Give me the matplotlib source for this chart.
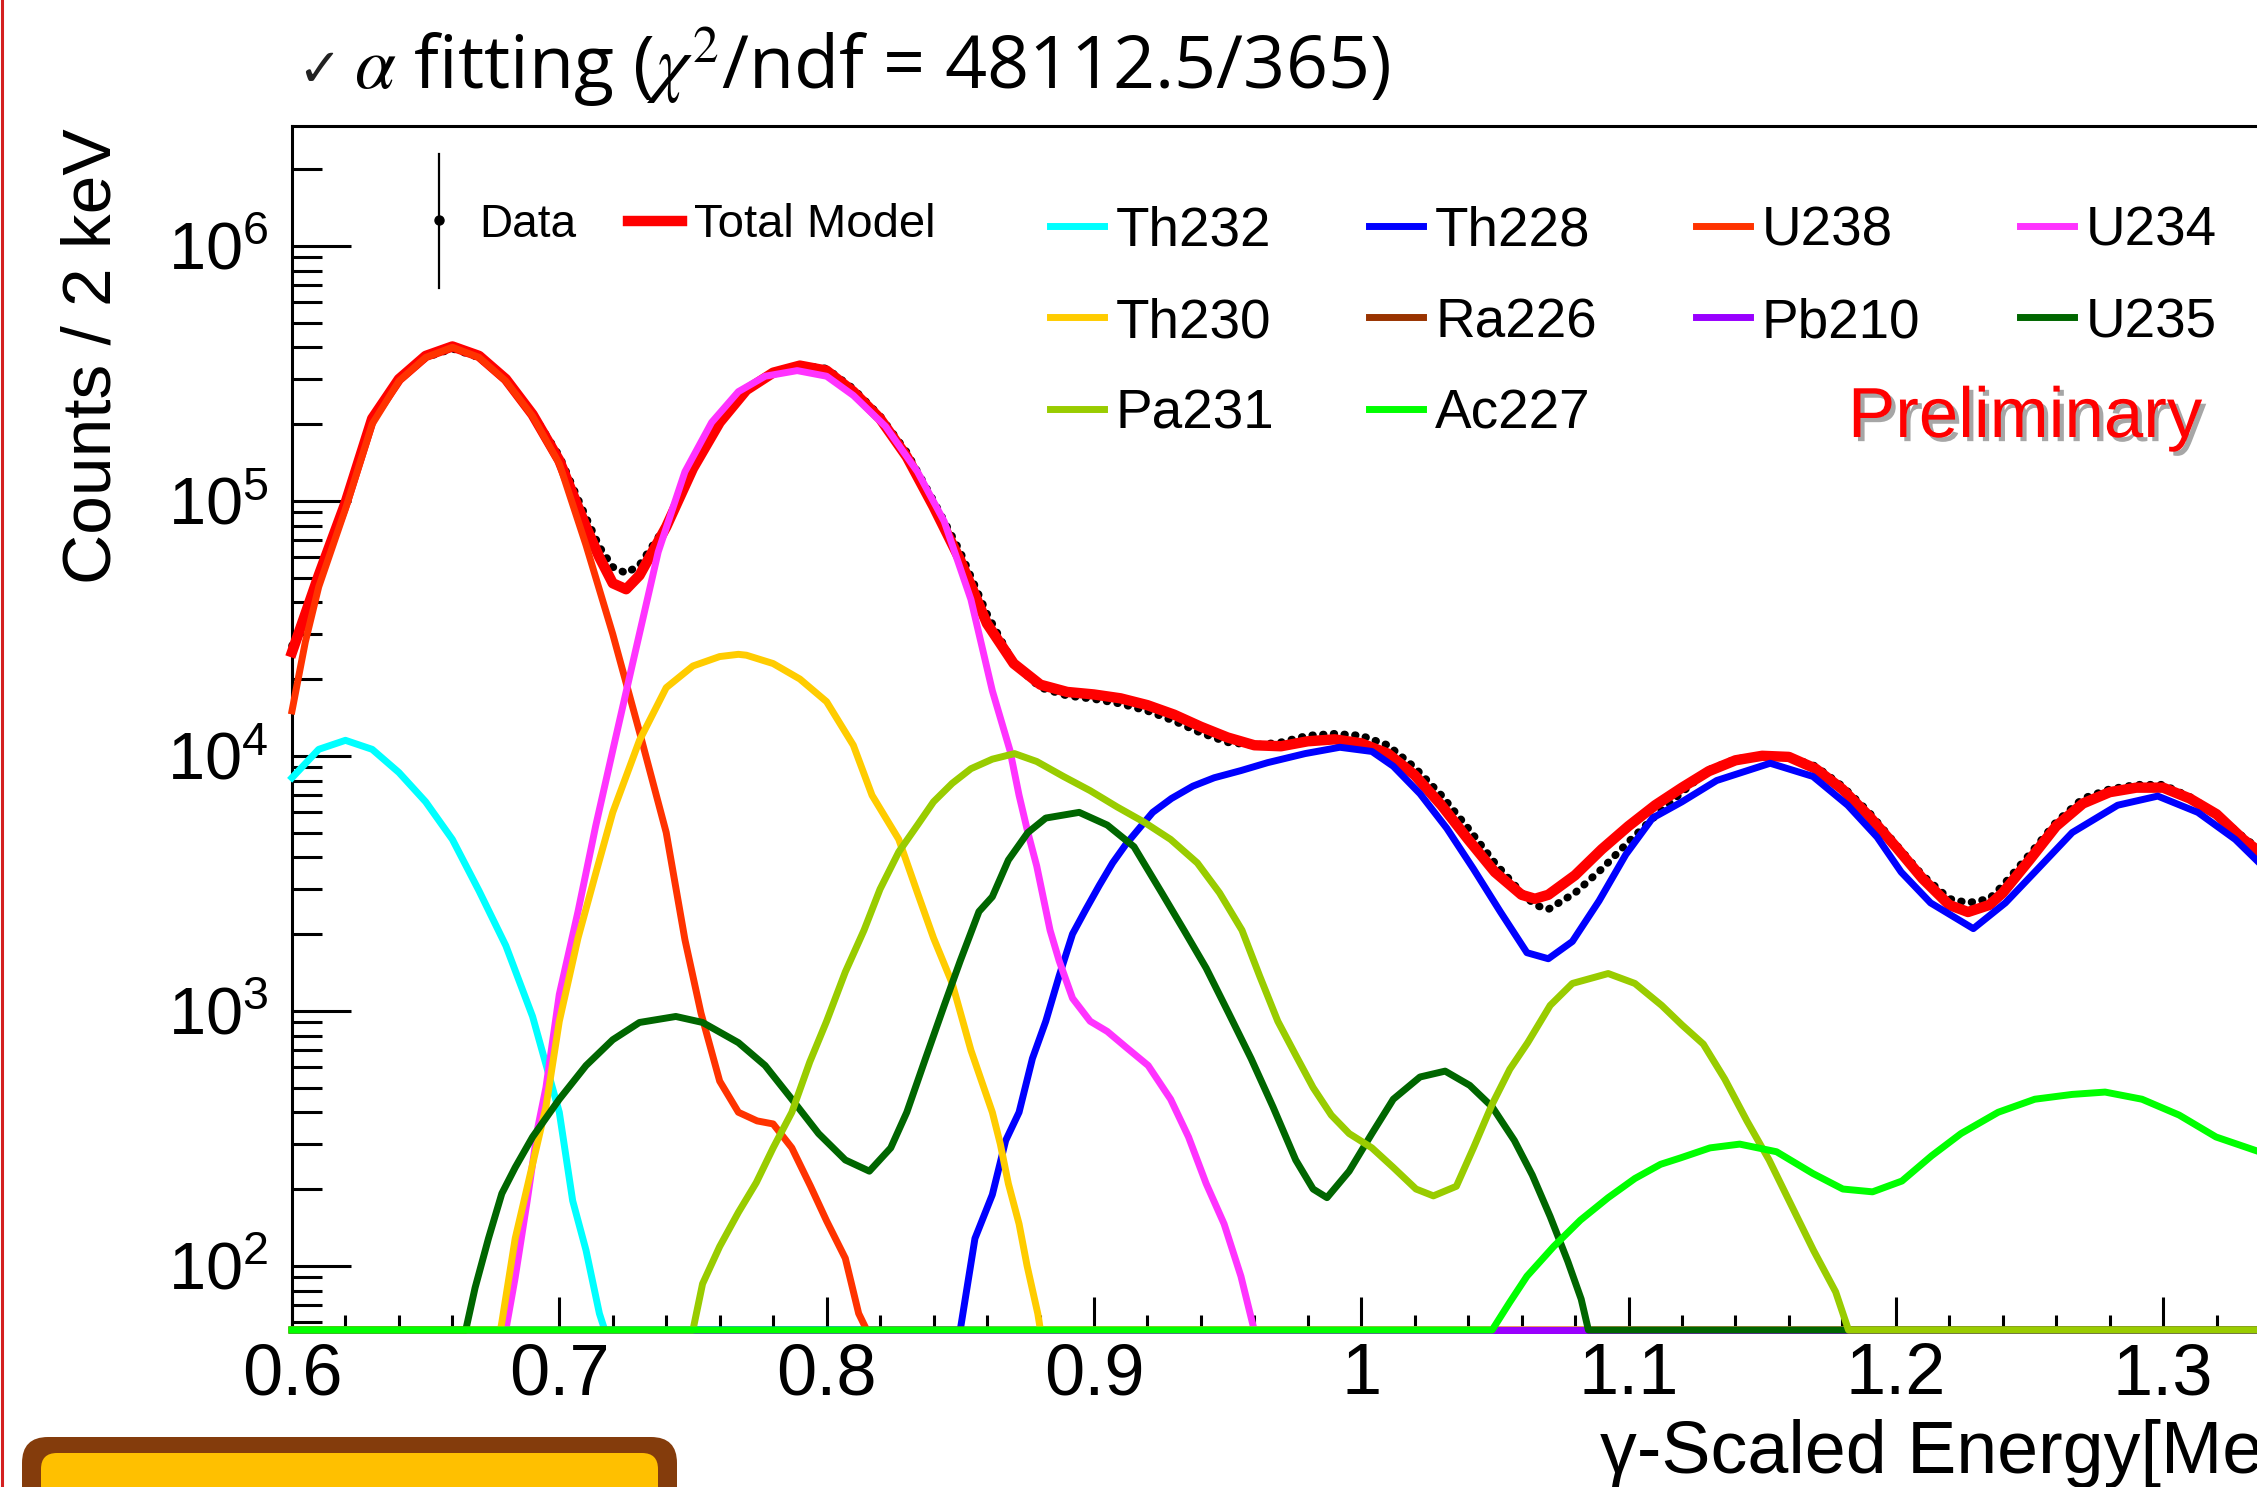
import matplotlib
matplotlib.use("Agg")
import matplotlib.pyplot as plt
import matplotlib.patheffects as pe
import matplotlib.transforms as mtrans
import numpy as np
from matplotlib.lines import Line2D
from matplotlib.patches import FancyBboxPatch
from matplotlib.ticker import LogLocator, MultipleLocator, NullFormatter

# ---- data (energy in MeV, counts per 2 keV) ----
model_e = [0.600, 0.605, 0.610, 0.620, 0.630, 0.640, 0.650, 0.660, 0.670, 0.680,
           0.690, 0.700, 0.710, 0.715, 0.720, 0.725, 0.730, 0.740, 0.750, 0.760,
           0.770, 0.780, 0.790, 0.800, 0.810, 0.820, 0.830, 0.840, 0.850, 0.860,
           0.870, 0.880, 0.890, 0.900, 0.910, 0.920, 0.930, 0.940, 0.950, 0.960,
           0.970, 0.980, 0.990, 1.000, 1.010, 1.020, 1.030, 1.040, 1.050, 1.060,
           1.065, 1.070, 1.080, 1.090, 1.100, 1.110, 1.120, 1.130, 1.140, 1.150,
           1.160, 1.170, 1.180, 1.190, 1.200, 1.210, 1.220, 1.227, 1.235, 1.240,
           1.250, 1.260, 1.270, 1.280, 1.290, 1.300, 1.310, 1.320, 1.330, 1.340]
model_c = [2.55e4, 3.6e4, 5.1e4, 9.8e4, 2.1e5, 3.0e5, 3.7e5, 4.03e5, 3.7e5, 3.0e5,
           2.18e5, 1.44e5, 7.9e4, 6.0e4, 4.75e4, 4.5e4, 5.1e4, 7.9e4, 1.34e5, 2.03e5,
           2.72e5, 3.18e5, 3.39e5, 3.24e5, 2.68e5, 2.1e5, 1.49e5, 9.5e4, 5.85e4, 3.3e4,
           2.3e4, 1.9e4, 1.78e4, 1.74e4, 1.68e4, 1.58e4, 1.45e4, 1.3e4, 1.18e4, 1.1e4,
           1.09e4, 1.14e4, 1.16e4, 1.12e4, 1.02e4, 8.4e3, 6.4e3, 4.7e3, 3.5e3, 2.85e3,
           2.75e3, 2.85e3, 3.4e3, 4.3e3, 5.3e3, 6.4e3, 7.5e3, 8.7e3, 9.6e3, 1.0e4,
           9.9e3, 8.9e3, 7.4e3, 5.8e3, 4.4e3, 3.3e3, 2.6e3, 2.44e3, 2.6e3, 2.9e3,
           3.9e3, 5.3e3, 6.5e3, 7.2e3, 7.5e3, 7.5e3, 6.8e3, 5.9e3, 4.7e3, 3.9e3]
data_c = [2.7e4, 3.6e4, 5.1e4, 9.8e4, 2.1e5, 3.0e5, 3.65e5, 3.95e5, 3.65e5, 3.0e5,
          2.2e5, 1.5e5, 8.6e4, 6.6e4, 5.5e4, 5.2e4, 5.6e4, 8.0e4, 1.34e5, 2.03e5,
          2.72e5, 3.2e5, 3.4e5, 3.3e5, 2.75e5, 2.15e5, 1.55e5, 1.0e5, 6.3e4, 3.6e4,
          2.3e4, 1.85e4, 1.72e4, 1.67e4, 1.6e4, 1.5e4, 1.37e4, 1.23e4, 1.13e4, 1.1e4,
          1.13e4, 1.2e4, 1.22e4, 1.2e4, 1.1e4, 9.0e3, 7.0e3, 5.2e3, 3.8e3, 2.9e3,
          2.6e3, 2.5e3, 2.9e3, 3.6e3, 4.6e3, 5.8e3, 7.2e3, 8.8e3, 9.7e3, 1.0e4,
          9.9e3, 9.1e3, 7.6e3, 6.0e3, 4.5e3, 3.4e3, 2.75e3, 2.65e3, 2.75e3, 3.1e3,
          4.1e3, 5.5e3, 6.8e3, 7.4e3, 7.7e3, 7.7e3, 6.9e3, 5.9e3, 4.8e3, 4.0e3]

th232_e = [0.600, 0.610, 0.620, 0.630, 0.640, 0.650, 0.660, 0.670, 0.680, 0.690,
           0.700, 0.705, 0.710, 0.715, 0.717, 1.345]
th232_c = [8.2e3, 1.06e4, 1.15e4, 1.06e4, 8.6e3, 6.6e3, 4.7e3, 2.95e3, 1.8e3, 950,
           400, 180, 115, 65, 0, 0]

th228_e = [0.600, 0.850, 0.8555, 0.862, 0.867, 0.872, 0.877, 0.882, 0.887, 0.892,
           0.897, 0.902, 0.907, 0.912, 0.917, 0.922, 0.929, 0.937, 0.945, 0.955,
           0.965, 0.979, 0.992, 1.004, 1.012, 1.022, 1.032, 1.042, 1.052, 1.062,
           1.070, 1.079, 1.089, 1.099, 1.109, 1.120, 1.133, 1.153, 1.169, 1.182,
           1.193, 1.202, 1.213, 1.229, 1.241, 1.252, 1.266, 1.283, 1.298, 1.313,
           1.327, 1.336, 1.345]
th228_c = [0, 0, 128, 190, 310, 400, 650, 910, 1370, 2000,
           2500, 3100, 3800, 4500, 5200, 6000, 6800, 7600, 8200, 8750,
           9400, 10200, 10800, 10400, 9100, 7100, 5200, 3600, 2450, 1690,
           1600, 1870, 2700, 4100, 5700, 6600, 8000, 9350, 8300, 6400,
           4800, 3500, 2650, 2100, 2650, 3500, 5000, 6400, 6950, 6000,
           4700, 3800, 3000]

u238_e = [0.600, 0.605, 0.610, 0.620, 0.630, 0.640, 0.650, 0.660, 0.670, 0.680,
          0.690, 0.700, 0.710, 0.720, 0.730, 0.740, 0.747, 0.753, 0.760, 0.767,
          0.774, 0.780, 0.787, 0.794, 0.800, 0.807, 0.812, 0.815, 1.345]
u238_c = [1.5e4, 2.8e4, 4.6e4, 9.3e4, 2.0e5, 2.95e5, 3.65e5, 4.0e5, 3.65e5, 2.95e5,
          2.15e5, 1.4e5, 6.7e4, 3.0e4, 1.24e4, 5.0e3, 1.9e3, 980, 530, 400,
          370, 360, 290, 205, 150, 107, 65, 0, 0]

u234_e = [0.600, 0.680, 0.6835, 0.688, 0.692, 0.695, 0.700, 0.707, 0.7136, 0.720,
          0.727, 0.737, 0.747, 0.757, 0.767, 0.777, 0.789, 0.800, 0.810, 0.822,
          0.834, 0.844, 0.854, 0.862, 0.8686, 0.872, 0.8753, 0.8786, 0.8836, 0.887,
          0.892, 0.8986, 0.905, 0.912, 0.9203, 0.9287, 0.9354, 0.942, 0.9487, 0.955,
          0.9596, 0.960, 1.345]
u234_c = [0, 0, 90, 180, 350, 500, 1160, 2450, 5300, 1.05e4,
          2.2e4, 6.3e4, 1.3e5, 2.03e5, 2.68e5, 3.08e5, 3.24e5, 3.08e5, 2.59e5, 1.96e5,
          1.3e5, 8.3e4, 4.1e4, 1.8e4, 1.05e4, 7.0e3, 5.0e3, 3.7e3, 2.07e3, 1.57e3,
          1.12e3, 910, 830, 720, 610, 450, 320, 210, 146, 91,
          58, 0, 0]

th230_e = [0.600, 0.678, 0.6785, 0.6835, 0.690, 0.695, 0.700, 0.707, 0.7136, 0.720,
           0.730, 0.740, 0.750, 0.760, 0.767, 0.770, 0.780, 0.790, 0.800, 0.810,
           0.817, 0.827, 0.834, 0.840, 0.847, 0.854, 0.862, 0.865, 0.868, 0.872,
           0.875, 0.879, 0.880, 1.345]
th230_c = [0, 0, 60, 128, 250, 420, 910, 1930, 3450, 6000,
           11500, 18500, 22500, 24500, 25000, 24800, 23000, 20000, 16300, 11000,
           7000, 4700, 2900, 1930, 1280, 700, 400, 300, 210, 146,
           100, 65, 0, 0]

ra226_e = [0.600, 1.345]
ra226_c = [0, 0]

pb210_e = [0.600, 1.345]
pb210_c = [0, 0]

u235_e = [0.600, 0.665, 0.6685, 0.6735, 0.6785, 0.6835, 0.690, 0.700, 0.710, 0.720,
          0.730, 0.7436, 0.7536, 0.767, 0.777, 0.787, 0.797, 0.807, 0.816, 0.824,
          0.830, 0.837, 0.844, 0.850, 0.857, 0.862, 0.868, 0.8753, 0.882, 0.8945,
          0.905, 0.915, 0.9254, 0.9337, 0.942, 0.9504, 0.9588, 0.967, 0.9755, 0.982,
          0.9872, 0.9955, 1.004, 1.012, 1.022, 1.0314, 1.0406, 1.049, 1.0573, 1.064,
          1.0707, 1.0773, 1.0823, 1.085, 1.345]
u235_c = [0, 0, 82, 128, 192, 243, 320, 450, 610, 770,
          900, 950, 900, 750, 610, 450, 330, 260, 235, 290,
          400, 650, 1050, 1570, 2450, 2800, 3900, 5000, 5700, 6000,
          5350, 4400, 2900, 2070, 1470, 980, 650, 420, 260, 200,
          185, 235, 330, 450, 550, 580, 510, 420, 310, 227,
          156, 104, 74, 0, 0]

pa231_e = [0.600, 0.750, 0.7536, 0.760, 0.767, 0.7737, 0.780, 0.787, 0.7937, 0.800,
           0.807, 0.814, 0.820, 0.827, 0.834, 0.840, 0.847, 0.854, 0.862, 0.8703,
           0.8786, 0.8886, 0.8986, 0.9087, 0.9187, 0.9287, 0.9387, 0.947, 0.9554, 0.962,
           0.9688, 0.9755, 0.982, 0.9888, 0.9955, 1.004, 1.012, 1.0205, 1.027, 1.0356,
           1.042, 1.049, 1.0556, 1.0623, 1.0707, 1.079, 1.0924, 1.1024, 1.1124, 1.120,
           1.128, 1.136, 1.1443, 1.1526, 1.161, 1.1692, 1.1775, 1.1823, 1.345]
pa231_c = [0, 0, 85, 119, 162, 212, 290, 400, 630, 910,
           1420, 2070, 3000, 4200, 5350, 6600, 7800, 8900, 9700, 10200,
           9500, 8300, 7300, 6300, 5500, 4700, 3800, 2900, 2070, 1370,
           910, 670, 500, 390, 330, 290, 243, 200, 188, 205,
           290, 430, 590, 750, 1050, 1280, 1400, 1280, 1050, 880,
           740, 540, 370, 260, 172, 115, 79, 0, 0]

ac227_e = [0.600, 1.049, 1.0556, 1.062, 1.072, 1.082, 1.0924, 1.1024, 1.112, 1.1195,
           1.1305, 1.1416, 1.1554, 1.169, 1.1802, 1.1913, 1.2023, 1.2134, 1.2244, 1.2383,
           1.252, 1.266, 1.2783, 1.2921, 1.306, 1.3198, 1.336, 1.345]
ac227_c = [0, 0, 72, 91, 119, 151, 185, 220, 250, 265,
           290, 300, 280, 230, 200, 195, 215, 270, 330, 400,
           450, 470, 480, 450, 390, 320, 280, 250]

# legend order = drawing order
comp_names = ["Th232", "Th228", "U238", "U234", "Th230",
              "Ra226", "Pb210", "U235", "Pa231", "Ac227"]
comp_colors = ["#00FFFF", "#0000FF", "#FF3300", "#FF33FF", "#FFCC00",
               "#993300", "#9900FF", "#006600", "#99CC00", "#00FF00"]
comp_e = [th232_e, th228_e, u238_e, u234_e, th230_e,
          ra226_e, pb210_e, u235_e, pa231_e, ac227_e]
comp_c = [th232_c, th228_c, u238_c, u234_c, th230_c,
          ra226_c, pb210_c, u235_c, pa231_c, ac227_c]

x_ticks = [0.6, 0.7, 0.8, 0.9, 1.0, 1.1, 1.2, 1.3, 1.4]
x_tick_labels = ["0.6", "0.7", "0.8", "0.9", "1", "1.1", "1.2", "1.3", "1.4"]
y_ticks = [1e2, 1e3, 1e4, 1e5, 1e6]
y_tick_labels = [r"$\mathregular{10^{%d}}$" % p for p in (2, 3, 4, 5, 6)]

YMIN, YMAX = 56, 2.95e6

# ---- figure, sized in pixels of the screenshot ----
W, H = 2257, 1487


def fx(x):
    return x / W


def fy(y):
    return 1 - y / H


plt.rcParams["font.family"] = ["Liberation Sans", "DejaVu Sans"]
fig = plt.figure(figsize=(W / 100, H / 100), dpi=100)
fig.patch.set_facecolor("white")

ax = fig.add_axes([fx(292), fy(1330), 0.8 * 2673 / W, (1330 - 126) / H])
ax.set_yscale("log")
ax.set_xlim(0.6, 1.4)
ax.set_ylim(YMIN, YMAX)

# data underneath, then total model, then components on top
ax.plot(model_e, data_c, color="black", lw=5.5, ls=(0, (0.1, 1.3)),
        dash_capstyle="round", zorder=2, clip_on=False)
ax.plot(model_e, model_c, color="red", lw=7.5, zorder=3, clip_on=False,
        solid_joinstyle="round")
for e, c, col in zip(comp_e, comp_c, comp_colors):
    ax.plot(e, np.maximum(c, YMIN), color=col, lw=5, zorder=4, clip_on=False,
            solid_joinstyle="round")

for s in ax.spines.values():
    s.set_linewidth(2.2)
    s.set_zorder(1)

ax.set_xticks(x_ticks)
ax.set_xticklabels(x_tick_labels, fontsize=52)
ax.xaxis.set_minor_locator(MultipleLocator(0.02))
ax.set_yticks(y_ticks)
ax.set_yticklabels(y_tick_labels, fontsize=48)
ax.yaxis.set_minor_locator(LogLocator(base=10, subs=np.arange(2, 10), numticks=30))
ax.yaxis.set_minor_formatter(NullFormatter())
ax.tick_params(which="both", direction="in", width=2.2, top=False, right=False)
ax.tick_params(axis="y", which="major", length=42.5, pad=17)
ax.tick_params(axis="y", which="minor", length=21.6)
ax.tick_params(axis="x", which="major", length=23.8, pad=9)
ax.tick_params(axis="x", which="minor", length=10.8)

# titles
fig.text(fx(297), fy(86), "\u2713", fontsize=38, family="DejaVu Sans",
         color="#222222", ha="left", va="baseline")
fig.text(fx(354), fy(89), "$\\alpha$ fitting ($\\chi^{2}$/ndf = 48112.5/365)",
         fontsize=53, family="Open Sans", math_fontfamily="stix",
         ha="left", va="baseline")
fig.text(fx(93), fy(356), "Counts / 2 keV", rotation=90, fontsize=50,
         ha="center", va="center")
fig.text(fx(1600), fy(1473), "\u03b3-Scaled Energy[MeV]", fontsize=53,
         ha="left", va="baseline")

# legend: data + total model
fig.add_artist(Line2D([fx(439), fx(439)], [fy(154), fy(288)], color="black",
                      lw=1.6, transform=fig.transFigure))
fig.add_artist(Line2D([fx(439)], [fy(220)], marker="o", ms=6.5, color="black",
                      transform=fig.transFigure))
fig.text(fx(479), fy(237), "Data", fontsize=33, va="baseline")
fig.add_artist(Line2D([fx(628), fx(682)], [fy(221), fy(221)], color="red",
                      lw=7.5, transform=fig.transFigure))
fig.text(fx(694), fy(237), "Total Model", fontsize=34, va="baseline")

# legend: components, 4 columns
col_x = [1050, 1369, 1696, 2020]
row_y = [226, 317, 409]
for i, (name, col) in enumerate(zip(comp_names, comp_colors)):
    x0 = col_x[i % 4]
    y0 = row_y[i // 4]
    fig.add_artist(Line2D([fx(x0), fx(x0 + 54)], [fy(y0), fy(y0)], color=col,
                          lw=5, transform=fig.transFigure))
    fig.text(fx(x0 + 66), fy(y0 + 20), name, fontsize=39.5, va="baseline")

fig.text(fx(1848), fy(437), "Preliminary", color="red", fontsize=51, va="baseline",
         path_effects=[pe.SimplePatchShadow(offset=(3, -3), shadow_rgbFace="#808080",
                                            alpha=0.7), pe.Normal()])

# slide decorations around the chart
fig.add_artist(Line2D([fx(1.5), fx(1.5)], [0, 1], color="#D42020", lw=2.2,
                      transform=fig.transFigure))
px = mtrans.IdentityTransform()
fig.add_artist(FancyBboxPatch((22, -40), 655, 90, boxstyle="round,pad=0,rounding_size=26",
                              facecolor="#843C0C", edgecolor="none", transform=px))
fig.add_artist(FancyBboxPatch((41, -40), 617, 74, boxstyle="round,pad=0,rounding_size=16",
                              facecolor="#FFC000", edgecolor="none", transform=px))

fig.savefig("out.png", dpi=100)
